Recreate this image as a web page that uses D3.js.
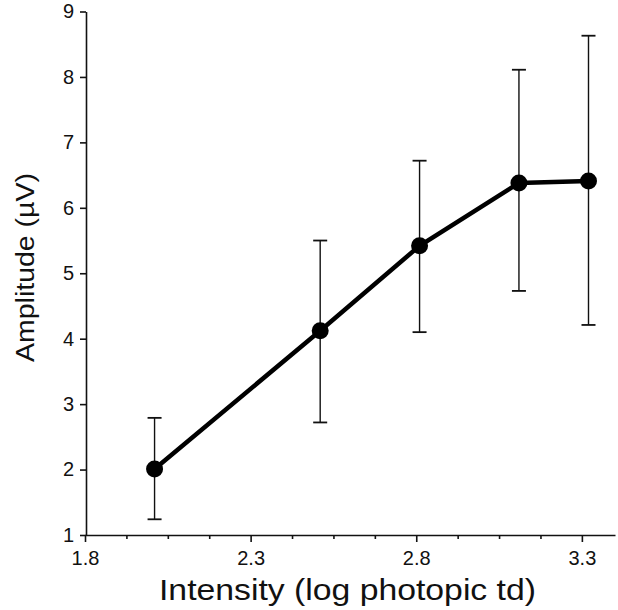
<!DOCTYPE html>
<html>
<head>
<meta charset="utf-8">
<script src="https://cdn.jsdelivr.net/npm/d3@7"></script>
<style>
  body { margin: 0; background: #fff; }
  text { font-family: "Liberation Sans", Arial, Helvetica, sans-serif; fill: #111; }
  .axis path, .axis line { stroke: #111; stroke-width: 1.6; }
</style>
</head>
<body>
<div id="viz"></div>
<script>
const width = 618;
const height = 610;

// data
const intensity = [2.01, 2.51, 2.81, 3.11, 3.32];
const amplitude = [2.01, 4.12, 5.42, 6.38, 6.41];
const errHigh = [2.79, 5.50, 6.72, 8.11, 8.63];
const errLow = [1.24, 2.72, 4.10, 4.73, 4.21];
const xTicks = [1.8, 2.3, 2.8, 3.3];
const xMinorTicks = [1.925, 2.05, 2.175, 2.425, 2.55, 2.675, 2.925, 3.05, 3.175];
const yTicks = [1, 2, 3, 4, 5, 6, 7, 8, 9];

const data = intensity.map((x, i) => ({x: x, y: amplitude[i], hi: errHigh[i], lo: errLow[i]}));

const svg = d3.select("#viz")
    .append("svg")
    .attr("width", width)
    .attr("height", height);

const xScale = d3.scaleLinear()
    .domain([1.8, 3.4])
    .range([85, 615]);

const yScale = d3.scaleLinear()
    .domain([1, 9])
    .range([535, 11.5]);

// x axis, major + minor ticks
const xAxis = d3.axisBottom(xScale)
    .tickValues(xTicks)
    .tickFormat(d3.format(".1f"))
    .tickSize(7)
    .tickSizeOuter(0)
    .tickPadding(9);

const xAxisG = svg.append("g")
    .attr("class", "axis")
    .attr("transform", `translate(0, ${yScale(1)})`)
    .call(xAxis);
xAxisG.selectAll("text").style("font-size", "20px");

svg.append("g")
    .attr("class", "axis")
    .attr("transform", `translate(0, ${yScale(1)})`)
    .call(d3.axisBottom(xScale).tickValues(xMinorTicks).tickSize(4).tickFormat(""))
    .select(".domain").remove();

// y axis
const yAxis = d3.axisLeft(yScale)
    .tickValues(yTicks)
    .tickFormat(d3.format("d"))
    .tickSize(6)
    .tickSizeOuter(0)
    .tickPadding(6);

const yAxisG = svg.append("g")
    .attr("class", "axis")
    .attr("transform", `translate(${xScale(1.8) + 1}, 0)`)
    .call(yAxis);
yAxisG.selectAll("text").style("font-size", "20px");

// error bars
const bars = svg.append("g").attr("stroke", "#111");
bars.selectAll(".stem").data(data)
    .enter().append("line")
        .attr("x1", d => xScale(d.x))
        .attr("x2", d => xScale(d.x))
        .attr("y1", d => yScale(d.lo))
        .attr("y2", d => yScale(d.hi))
        .attr("stroke-width", 1.4);
bars.selectAll(".capHi").data(data)
    .enter().append("line")
        .attr("x1", d => xScale(d.x) - 7)
        .attr("x2", d => xScale(d.x) + 7)
        .attr("y1", d => yScale(d.hi))
        .attr("y2", d => yScale(d.hi))
        .attr("stroke-width", 1.8);
bars.selectAll(".capLo").data(data)
    .enter().append("line")
        .attr("x1", d => xScale(d.x) - 7)
        .attr("x2", d => xScale(d.x) + 7)
        .attr("y1", d => yScale(d.lo))
        .attr("y2", d => yScale(d.lo))
        .attr("stroke-width", 1.8);

// mean line
const line = d3.line()
    .x(d => xScale(d.x))
    .y(d => yScale(d.y));

svg.append("path")
    .datum(data)
    .attr("d", line)
    .attr("fill", "none")
    .attr("stroke", "#000")
    .attr("stroke-width", 4.5);

svg.selectAll("circle").data(data)
    .enter().append("circle")
        .attr("cx", d => xScale(d.x))
        .attr("cy", d => yScale(d.y))
        .attr("r", 8.5)
        .attr("fill", "#000");

// axis titles
svg.append("text")
    .attr("x", 159)
    .attr("y", 600)
    .attr("textLength", 377)
    .attr("lengthAdjust", "spacingAndGlyphs")
    .style("font-size", "30px")
    .text("Intensity (log photopic td)");

svg.append("text")
    .attr("transform", "translate(34, 362) rotate(-90)")
    .attr("textLength", 189)
    .attr("lengthAdjust", "spacingAndGlyphs")
    .style("font-size", "25px")
    .text("Amplitude (\u00b5V)");
</script>
</body>
</html>
